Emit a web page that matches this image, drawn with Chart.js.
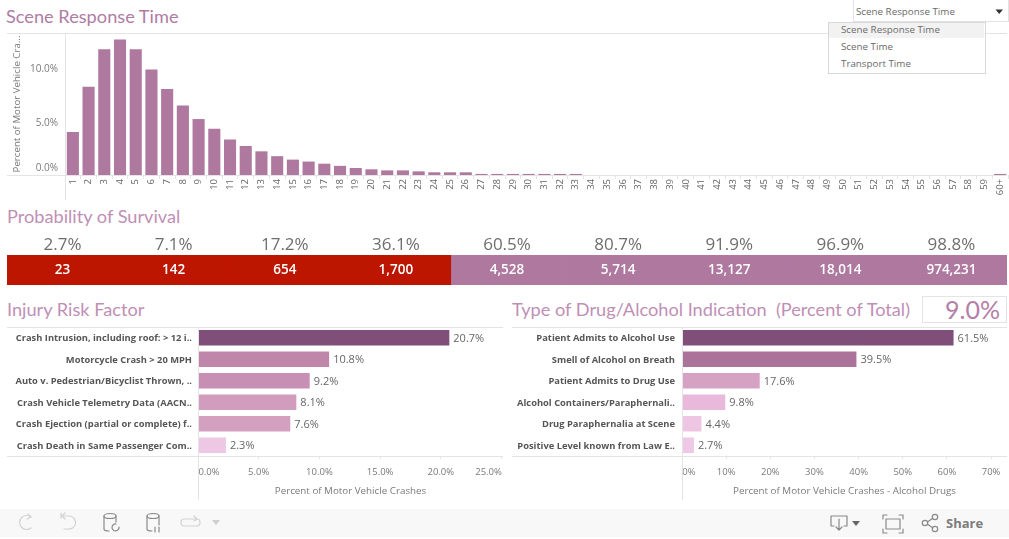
<!DOCTYPE html>
<html><head><meta charset="utf-8">
<script src="https://cdn.jsdelivr.net/npm/chart.js@4"></script>
<style>
html,body{margin:0;padding:0;background:#fff;width:1009px;height:539px;overflow:hidden;font-family:Lato,sans-serif}
canvas,.t,.b{position:absolute}
.t{white-space:nowrap;line-height:1}
.h{font-size:18.2px;color:#c08fb5;font-weight:400}
.mi{font-family:"Open Sans";font-size:9.8px;color:#6a6a6a;left:841px}
</style></head><body>
<div class="t h" style="left:6px;top:7px;color:#b07ca3">Scene Response Time</div>
<div class="t h" style="left:7px;top:207px">Probability of Survival</div>
<div class="t h" style="left:7px;top:300px">Injury Risk Factor</div>
<div class="t h" style="left:512px;top:300px">Type of Drug/Alcohol Indication&nbsp; (Percent of Total)</div>
<div class="b" style="left:922px;top:296px;width:83px;height:25px;border:1px solid #e4e4e4"></div>
<div class="t" style="right:9px;top:297px;font-size:25px;color:#b57ea8">9.0%</div>

<div class="b" style="left:853px;top:0;width:154px;height:21px;border:1px solid #e2e2e2;border-top:0"></div>
<div class="t mi" style="left:856px;top:7px">Scene Response Time</div>
<svg class="b" style="left:995px;top:9px" width="9" height="6"><path d="M0.5 0.5H8L4.2 5Z" fill="#333"/></svg>
<div class="b" style="left:828px;top:22px;width:156px;height:50px;border:1px solid #d8d8d8;background:#fff;z-index:2"></div>
<div class="b" style="left:829px;top:23px;width:155px;height:15px;background:#f2f2f2;z-index:2"></div>
<div class="t mi" style="top:25px;z-index:3">Scene Response Time</div>
<div class="t mi" style="top:42px;z-index:3">Scene Time</div>
<div class="t mi" style="top:59px;z-index:3">Transport Time</div>

<canvas id="top" width="1009" height="175" style="left:0;top:25px"></canvas>
<canvas id="strip" width="1009" height="60" style="left:0;top:230px"></canvas>
<canvas id="risk" width="505" height="180" style="left:0;top:320px"></canvas>
<canvas id="drug" width="504" height="180" style="left:505px;top:320px"></canvas>

<div class="b" style="left:0;top:509px;width:1009px;height:28px;background:#f8f8f8"></div>
<svg class="b" style="left:0;top:509px" width="1009" height="28" fill="none" stroke-width="1.2" stroke-linecap="round" stroke-linejoin="round">
 <g stroke="#d2d2d2">
  <path d="M31 8 A7 7 0 1 0 31 19"/><path d="M28 5 L31 8 L27 10"/>
  <path d="M62 7 H70 A6.5 6.5 0 1 1 68 20 H64"/><path d="M61 4 V9 M65 4 L62 7 L65 10"/>
  <rect x="181" y="10" width="19" height="7" rx="3.5"/><path d="M194 7 L197 10 L194 12"/>
 </g>
 <path d="M212 11 H220 L216 16Z" fill="#cfcfcf" stroke="none"/>
 <g stroke="#8a8a8a">
  <ellipse cx="110" cy="7" rx="6" ry="2.5"/><path d="M104 7 V20 Q104 22 109 22"/><path d="M116 7 V13"/>
  <path d="M119 18 A3.5 3.5 0 1 1 116 15"/>
  <ellipse cx="153" cy="7" rx="6" ry="2.5"/><path d="M147 7 V20 Q147 22 152 22"/><path d="M159 7 V16"/>
  <path d="M155 18 V23 M159 18 V23"/>
  <path d="M834 17 H831 V7 H847 V17 H844"/><path d="M839 10 V21 M836 18 L839 21 L842 18"/>
  <rect x="886" y="10" width="14" height="10"/>
  <path d="M883 10 V6 H887 M899 6 H903 V10 M903 20 V24 H899 M887 24 H883 V20"/>
  <circle cx="925" cy="14" r="2.7"/><circle cx="935" cy="8" r="2.7"/><circle cx="935" cy="20" r="2.7"/>
  <path d="M927.5 13 L932.7 9.3 M927.5 15.2 L932.7 18.8"/>
 </g>
 <path d="M852 12 H860 L856 17Z" fill="#666" stroke="none"/>
</svg>
<div class="t" style="left:946px;top:514px;font:bold 13px 'Open Sans';color:#7d7d7d">Share</div>

<script>
const timeCategories=[...Array(59).keys()].map(i=>String(i+1)).concat(['60+']);
const timeValues=[4.0,8.2,11.7,12.6,11.7,9.8,8.0,6.45,5.2,4.3,3.3,2.7,2.2,1.75,1.43,1.25,1.05,0.85,0.65,0.53,0.43,0.43,0.34,0.25,0.25,0.25,0.1,0.1,0.1,0.1,0.1,0.1,0.1,0,0,0,0,0,0,0,0,0,0,0,0,0,0,0,0,0,0,0,0,0,0,0,0,0,0,0.1];
const survivalPct=['2.7%','7.1%','17.2%','36.1%','60.5%','80.7%','91.9%','96.9%','98.8%'];
const survivalCounts=['23','142','654','1,700','4,528','5,714','13,127','18,014','974,231'];
const survivalBand=[1,1,1,1,1,1,1,1,1];
const survivalColors=['#bd1600','#bd1600','#bd1600','#bd1600','#ae789f','#ae789f','#ae789f','#ae789f','#ae789f'];
const riskCategories=['Crash Intrusion, including roof: > 12 i..','Motorcycle Crash > 20 MPH','Auto v. Pedestrian/Bicyclist Thrown, ..','Crash Vehicle Telemetry Data (AACN..','Crash Ejection (partial or complete) f..','Crash Death in Same Passenger Com..'];
const riskValues=[20.7,10.8,9.2,8.1,7.6,2.3];
const riskColors=['#7f4f79','#c086a9','#c88fb4','#d19cbd','#d4a0c0','#edc7e3'];
const drugCategories=['Patient Admits to Alcohol Use','Smell of Alcohol on Breath','Patient Admits to Drug Use','Alcohol Containers/Paraphernali..','Drug Paraphernalia at Scene','Positive Level known from Law E..'];
const drugValues=[61.5,39.5,17.6,9.8,4.4,2.7];
const drugColors=['#7f4f79','#ab739a','#d6a2c4','#e8b9da','#eec5e3','#eec8e4'];

Chart.defaults.animation=false;
Chart.defaults.responsive=false;
Chart.defaults.plugins.legend.display=false;
Chart.defaults.plugins.tooltip.enabled=false;
const LINE='#e4e4e4', TXT='#7a7a7a', FONT='"Open Sans"';

function fit(prop,v){return s=>{s[prop]=v;s.paddingLeft=s.paddingRight=s.paddingTop=s.paddingBottom=0;};}

function frame(x0,x1,axisBottom){return {id:'frame',afterDraw(c){
  const g=c.ctx,a=c.chartArea;g.save();g.strokeStyle=LINE;g.lineWidth=1;
  g.beginPath();
  g.moveTo(x0,Math.round(a.top)+.5);g.lineTo(x1,Math.round(a.top)+.5);
  g.moveTo(x0,Math.round(a.bottom)+.5);g.lineTo(x1,Math.round(a.bottom)+.5);
  g.moveTo(Math.round(a.left)+.5,a.top);g.lineTo(Math.round(a.left)+.5,axisBottom);
  g.stroke();g.restore();}};}

const endLabels={id:'endLabels',afterDatasetsDraw(c){
  const g=c.ctx;g.save();g.font='11px '+FONT;g.fillStyle='#666';g.textBaseline='middle';g.textAlign='left';
  c.getDatasetMeta(0).data.forEach((b,i)=>g.fillText(c.data.datasets[0].data[i].toFixed(1)+'%',b.x+4,b.y+1));
  g.restore();}};

function shiftLabels(c,scaleId,fn){const s=c.scales[scaleId];s.getLabelItems().forEach((it,i,arr)=>fn(it,i,arr));}

new Chart(document.getElementById('top'),{type:'bar',
 data:{labels:timeCategories,datasets:[{data:timeValues,backgroundColor:'#ae789f',barPercentage:.77,categoryPercentage:1}]},
 options:{layout:{padding:{top:8,right:1}},
  scales:{
   x:{afterFit:fit('height',25),grid:{offset:true,drawOnChartArea:false,tickLength:4,tickColor:LINE},border:{display:false},
      ticks:{autoSkip:false,maxRotation:90,minRotation:90,padding:0,font:{family:FONT,size:9.5},color:'#666'}},
   y:{min:0,max:13.2,afterFit:fit('width',65),grid:{display:false,drawTicks:false},border:{display:false},
      title:{display:true,text:'Percent of Motor Vehicle Cra...',color:TXT,font:{family:FONT,size:9.7},padding:{top:11,bottom:0}},
      ticks:{stepSize:5,includeBounds:false,padding:7,font:{family:FONT,size:10},color:TXT,callback:v=>v.toFixed(1)+'%'}}
  }},
 plugins:[frame(7,1007,197),{id:'zero',beforeDraw(c){if(c.$z)return;c.$z=1;shiftLabels(c,'y',(it)=>{it.options.translation[1]+=(it.label==='0.0%'?-7:2);});}}]
});

new Chart(document.getElementById('strip'),{type:'bar',
 data:{labels:survivalPct,datasets:[{data:survivalBand,backgroundColor:survivalColors,barPercentage:1,categoryPercentage:1}]},
 options:{layout:{padding:{left:7,right:2,bottom:5}},
  scales:{
   x:{position:'top',afterFit:fit('height',25),grid:{display:false,drawTicks:false},border:{display:false},
      ticks:{padding:0,font:{family:FONT,size:17},color:'#6e6e6e',maxRotation:0}},
   y:{display:false,min:0,max:1}
  }},
 plugins:[{id:'counts',afterDatasetsDraw(c){const g=c.ctx;g.save();g.font='600 13.5px '+FONT;g.fillStyle='#fff';g.textAlign='center';g.textBaseline='middle';
   c.getDatasetMeta(0).data.forEach((b,i)=>g.fillText(survivalCounts[i],b.x,(c.chartArea.top+c.chartArea.bottom)/2));g.restore();}}]
});

function hbar(id,cats,vals,cols,axisLeft,rightPad,labelPad,max,step,fmt,title,x0,x1,padBefore,lastShift){
 new Chart(document.getElementById(id),{type:'bar',
  data:{labels:cats,datasets:[{data:vals,backgroundColor:cols,barPercentage:.72,categoryPercentage:1}]},
  options:{indexAxis:'y',layout:{padding:{top:7,right:rightPad}},
   scales:{
    x:{min:0,max:max,afterFit:fit('height',44),grid:{drawOnChartArea:false,tickLength:3,tickColor:LINE},border:{display:false},
       title:{display:true,text:title,color:TXT,font:{family:FONT,size:9.8},padding:{top:0,bottom:3}},
       ticks:{stepSize:step,includeBounds:false,maxRotation:0,padding:8,font:{family:FONT,size:9.5},color:TXT,callback:fmt}},
    y:{afterFit:fit('width',axisLeft),grid:{display:false,drawTicks:false},border:{display:false},
       ticks:{autoSkip:false,padding:labelPad,labelOffset:1,font:{family:FONT,size:9.35,weight:'bold'},color:'#555'}}
   }},
  plugins:[frame(x0,x1,180),endLabels,{id:'edge',beforeDraw(c){if(c.$z)return;c.$z=1;shiftLabels(c,'x',(it,i,arr)=>{
     if(i===0)it.options.translation[0]+=padBefore;
     if(i===arr.length-1)it.options.translation[0]-=lastShift;});}}]
 });
}
hbar('risk',riskCategories,riskValues,riskColors,198,2,6,25.12,5,v=>v.toFixed(1)+'%','Percent of Motor Vehicle Crashes',7,503,11,13);
hbar('drug',drugCategories,drugValues,drugColors,177,2,7,73.6,10,v=>v+'%','Percent of Motor Vehicle Crashes - Alcohol Drugs',7,502,7,0);
</script>
</body></html>
